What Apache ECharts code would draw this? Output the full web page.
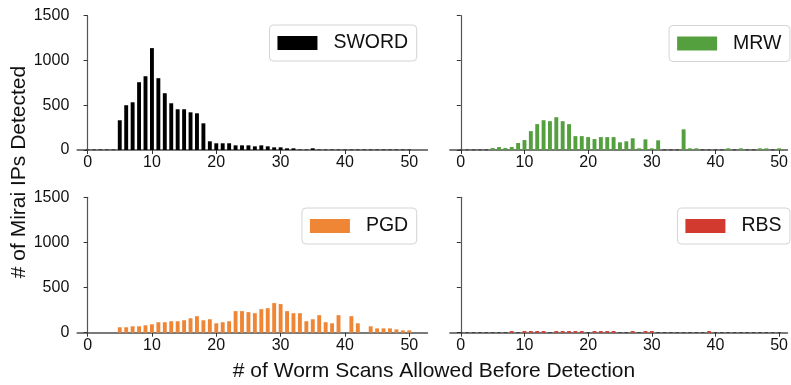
<!DOCTYPE html>
<html>
<head>
<meta charset="utf-8">
<script src="https://cdn.jsdelivr.net/npm/echarts@6/dist/echarts.min.js"></script>
<style>
html,body{margin:0;padding:0;background:#fff;}
#chart{width:791px;height:385px;}
</style>
</head>
<body>
<div id="chart"></div>
<script>
// ---- data ----
const scans = Array.from({length: 51}, (_, i) => i); // 0..50 categories
const xTicks = [0, 10, 20, 30, 40, 50];
const yTicks = [0, 500, 1000, 1500];
const names = ['SWORD', 'MRW', 'PGD', 'RBS'];
const colors = ['#000000', '#54a03f', '#ef8636', '#d2392f'];

const sword = [8,8,8,8,8, 332,500,533,757,824, 1138,802,634,522,455, 455,421,410,298,97,
  75,75,75,52,52, 52,41,52,41,30, 30,19,19,7,7, 19,7,7,7,7, 7,7,7,7,7, 7,7,7,7,7, 7];
const mrw = [5,5,5,5,5, 22,33,22,33,78, 111,211,289,333,322, 366,322,289,155,155,
  144,122,144,144,144, 86,97,131,19,119, 19,108,5,5,5, 231,19,19,5,5, 5,5,19,5,19, 5,5,19,19,5, 19];
const pgd = [0,0,0,0,0, 60,60,71,71,82, 93,116,116,127,127, 138,160,183,138,149,
  104,116,127,239,239, 228,216,261,272,328, 317,239,216,216,127, 149,194,116,104,194,
  0,183,104,0,71, 48,48,48,37,26, 26];
const rbs = [4,4,4,4,4, 4,4,4,18,4, 18,18,18,18,4, 18,18,18,18,18,
  4,18,18,18,18, 4,4,18,4,18, 18,4,4,4,4, 4,4,4,4,18, 4,4,4,4,4, 4,4,4,4,4, 4];
const seriesValues = [sword, mrw, pgd, rbs];

// ---- layout ----
const grids = [
  {left: 77.3, top: 15.7, width: 350, height: 134.3},
  {left: 450, top: 15.7, width: 341, height: 134.3},
  {left: 77.3, top: 197.3, width: 350, height: 135.4},
  {left: 450, top: 197.3, width: 341, height: 135.4}
];
const xRanges = [[-1.6, 52.8], [-1.7, 51.3], [-1.6, 52.8], [-1.7, 51.3]];
const FONT = 'Liberation Sans, Arial, sans-serif';

const xAxes = grids.map((g, i) => ({
  type: 'value', gridIndex: i, min: xRanges[i][0], max: xRanges[i][1],
  splitLine: {show: false},
  axisLine: {show: true, onZero: false, lineStyle: {color: '#7a7a7a', width: 1.8}},
  axisTick: {show: true, length: 4, customValues: xTicks, lineStyle: {color: '#333', width: 1}},
  axisLabel: {show: true, customValues: xTicks, margin: 5, fontSize: 16, color: '#111', fontFamily: FONT}
}));
const yAxes = grids.map((g, i) => ({
  type: 'value', gridIndex: i, min: 0, max: 1500, interval: 500,
  splitLine: {show: false},
  axisLine: {show: true, lineStyle: {color: '#555', width: 1.2}},
  axisTick: {show: true, length: 4, lineStyle: {color: '#333', width: 1}},
  axisLabel: {show: i % 2 === 0, margin: 8, fontSize: 16, color: '#111', fontFamily: FONT,
    formatter: v => String(v)}
}));

const series = names.map((n, i) => ({
  name: n, type: 'bar', xAxisIndex: i, yAxisIndex: i,
  barWidth: 3.9,
  itemStyle: {color: colors[i]},
  data: seriesValues[i].map((v, k) => {
    if (v > 0 && v <= 8) {
      return {value: [scans[k], v], itemStyle: {color: '#333', borderColor: '#333', borderWidth: 0.5}};
    }
    return [scans[k], v];
  })
}));

const legendPos = [
  {right: 374.3, top: 25},
  {right: 1, top: 25.5},
  {right: 374.3, top: 208},
  {right: 1, top: 208}
];
const legends = names.map((n, i) => Object.assign({
  data: [{name: n, icon: 'rect'}],
  itemWidth: 40, itemHeight: 14,
  padding: [8, 8.5, 8, 8],
  backgroundColor: '#fff',
  borderColor: '#d4d4d4', borderWidth: 1, borderRadius: 4,
  selectedMode: false,
  textStyle: {fontSize: 19.5, lineHeight: 19, color: '#111', fontFamily: FONT, padding: [0, 0, 0, 11]}
}, legendPos[i]));

const option = {
  animation: false,
  backgroundColor: '#fff',
  grid: grids,
  xAxis: xAxes,
  yAxis: yAxes,
  legend: legends,
  series: series,
  graphic: [
    {type: 'text', x: 19, y: 172, rotation: Math.PI / 2,
     style: {text: '# of Mirai IPs Detected', font: '21px ' + FONT, fill: '#111', align: 'center', verticalAlign: 'middle'}},
    {type: 'text', x: 434, y: 371,
     style: {text: '# of Worm Scans Allowed Before Detection', font: '21px ' + FONT, fill: '#111', align: 'center', verticalAlign: 'middle'}}
  ]
};

const chart = echarts.init(document.getElementById('chart'), null, {renderer: 'canvas'});
chart.setOption(option);
</script>
</body>
</html>
